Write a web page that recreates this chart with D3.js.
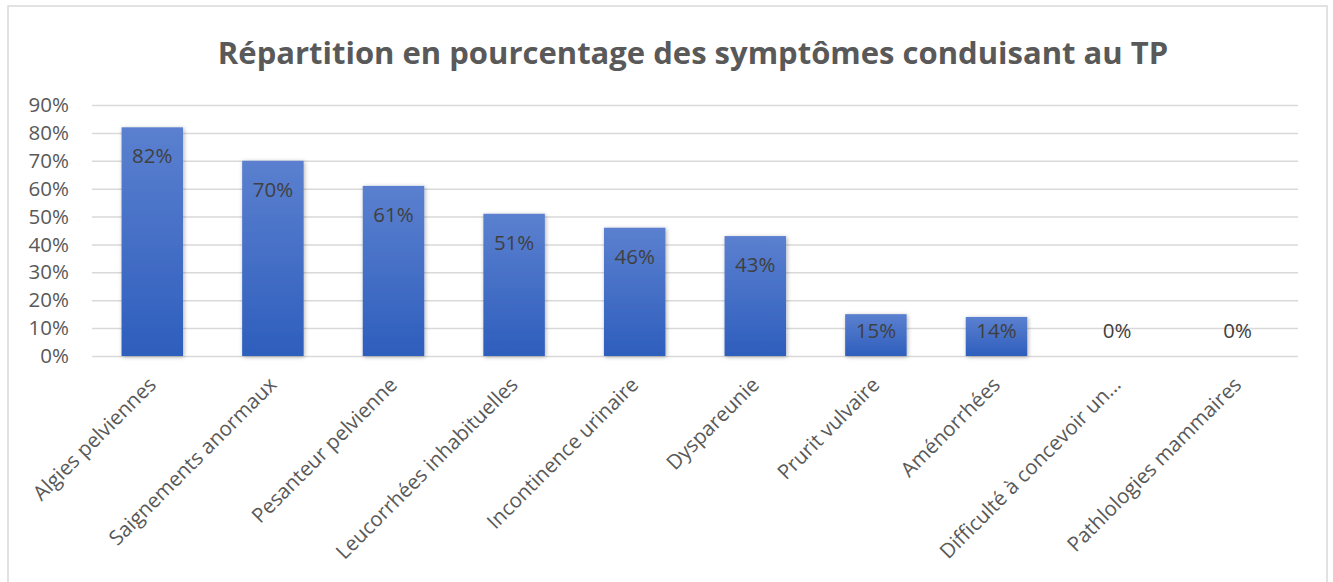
<!DOCTYPE html>
<html>
<head>
<meta charset="utf-8">
<script src="https://cdn.jsdelivr.net/npm/d3@7"></script>
<style>
  body { margin: 0; background: #fff; }
  text { font-family: "Open Sans", sans-serif; }
</style>
</head>
<body>
<div id="graph"></div>
<script>
var categories = ["Algies pelviennes", "Saignements anormaux", "Pesanteur pelvienne", "Leucorrhées inhabituelles",
                  "Incontinence urinaire", "Dyspareunie", "Prurit vulvaire", "Aménorrhées",
                  "Difficulté à concevoir un…", "Pathlologies mammaires"];
var values = [0.82, 0.70, 0.61, 0.51, 0.46, 0.43, 0.15, 0.14, 0, 0];
var yTicks = [0, 0.1, 0.2, 0.3, 0.4, 0.5, 0.6, 0.7, 0.8, 0.9];
var title = "Répartition en pourcentage des symptômes conduisant au TP";

var width = 1333, height = 582;
var plot = {left: 92, right: 1298, top: 105, bottom: 356};

var svg = d3.select("#graph").append("svg")
    .attr("width", width)
    .attr("height", height);

var defs = svg.append("defs");
var grad = defs.append("linearGradient")
    .attr("id", "barGrad")
    .attr("x1", 0).attr("y1", 0).attr("x2", 0).attr("y2", 1);
grad.append("stop").attr("offset", "0%").attr("stop-color", "#5b80cf");
grad.append("stop").attr("offset", "100%").attr("stop-color", "#2e5ebd");

var shadow = defs.append("filter")
    .attr("id", "shadow")
    .attr("x", "-20%").attr("y", "-20%").attr("width", "140%").attr("height", "140%");
shadow.append("feDropShadow")
    .attr("dx", 1).attr("dy", 1)
    .attr("stdDeviation", 2)
    .attr("flood-color", "#000")
    .attr("flood-opacity", 0.3);

// chart border
svg.append("rect")
    .attr("x", 8).attr("y", 6)
    .attr("width", 1319).attr("height", 590)
    .attr("fill", "none")
    .attr("stroke", "#d9d9d9")
    .attr("stroke-width", 1.5);

svg.append("text")
    .attr("x", 693)
    .attr("y", 64)
    .attr("text-anchor", "middle")
    .style("font-size", "31px")
    .style("font-weight", "bold")
    .style("fill", "#595959")
    .text(title);

var x = d3.scaleBand()
    .domain(categories)
    .range([plot.left, plot.right])
    .paddingInner(0.49)
    .paddingOuter(0.245);

var y = d3.scaleLinear()
    .domain([0, 0.9])
    .range([plot.bottom, plot.top]);

// gridlines
var yAxis = d3.axisLeft(y)
    .tickValues(yTicks)
    .tickSize(-(plot.right - plot.left))
    .tickPadding(23)
    .tickFormat(d3.format(".0%"));

var gy = svg.append("g")
    .attr("transform", "translate(" + plot.left + ",0)")
    .call(yAxis);
gy.select(".domain").remove();
gy.selectAll(".tick line")
    .attr("stroke", "#d9d9d9")
    .attr("stroke-width", 1.5);
gy.selectAll(".tick text")
    .style("font-size", "20.5px")
    .style("fill", "#595959");

// bars
svg.selectAll(".bar")
    .data(values)
    .enter().append("rect")
    .attr("class", "bar")
    .attr("x", function(d, i) { return x(categories[i]); })
    .attr("y", function(d) { return y(d); })
    .attr("width", x.bandwidth())
    .attr("height", function(d) { return y(0) - y(d); })
    .attr("fill", "url(#barGrad)")
    .attr("filter", function(d) { return d > 0 ? "url(#shadow)" : null; });

// data labels
svg.selectAll(".lbl")
    .data(values)
    .enter().append("text")
    .attr("class", "lbl")
    .attr("x", function(d, i) { return x(categories[i]) + x.bandwidth() / 2; })
    .attr("y", function(d) { return Math.min(y(d) + 29, y(0) - 25); })
    .attr("dy", "0.35em")
    .attr("text-anchor", "middle")
    .style("font-size", "20.5px")
    .style("fill", "#404040")
    .text(function(d) { return Math.round(d * 100) + "%"; });

// category labels
var xAxis = d3.axisBottom(x).tickSize(0).tickPadding(0);
var gx = svg.append("g")
    .attr("transform", "translate(0," + plot.bottom + ")")
    .call(xAxis);
gx.select(".domain").remove();
gx.selectAll(".tick text")
    .attr("y", 0)
    .attr("dy", 0)
    .attr("text-anchor", "end")
    .attr("transform", "translate(5,30) rotate(-45)")
    .style("font-size", "20.5px")
    .style("fill", "#595959");
</script>
</body>
</html>
